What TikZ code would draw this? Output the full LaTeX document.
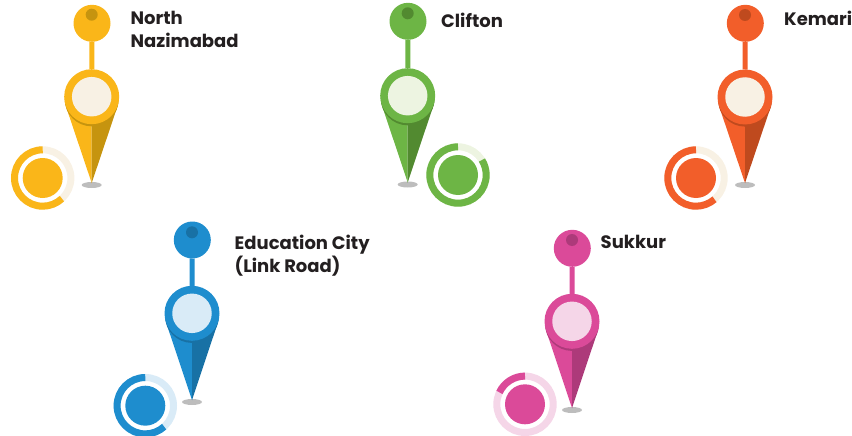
\documentclass[tikz,border=0pt]{standalone}
\usepackage{fontspec}
\setmainfont{Poppins}[BoldFont=* Bold]
\definecolor{yelM}{HTML}{FAB619}\definecolor{yelD}{HTML}{C6940F}\definecolor{yelL}{HTML}{F8F1E4}
\definecolor{grnM}{HTML}{6DB545}\definecolor{grnD}{HTML}{528A30}\definecolor{grnL}{HTML}{EDF4E1}
\definecolor{orgM}{HTML}{F25E2A}\definecolor{orgD}{HTML}{BF4A1E}\definecolor{orgL}{HTML}{F8F1E4}
\definecolor{bluM}{HTML}{1E8DCE}\definecolor{bluD}{HTML}{1871A5}\definecolor{bluL}{HTML}{D9EBF7}
\definecolor{pnkM}{HTML}{DB4A99}\definecolor{pnkD}{HTML}{AD3A7A}\definecolor{pnkL}{HTML}{F5D6E8}
\definecolor{txt}{HTML}{231F20}\definecolor{shad}{HTML}{BDBDBD}
\tikzset{
  disc/.style={circle,draw=none,inner sep=0pt,outer sep=0pt},
  pinlabel/.style={anchor=north west,inner sep=0pt,align=left,text=txt,font=\bfseries\fontsize{18pt}{23.5pt}\selectfont},
  stem/.style={line width=5pt},
}
% #1 id, #2 colour prefix, #3 pin x, #4 head y, #5 dot y, #6 big y, #7 tip y
\newcommand{\mappin}[7]{%
  \fill[shad] (#3,#7+2) ellipse [x radius=10pt,y radius=3pt];
  \fill[#2M] (#3-26,#6+9) -- (#3,#7) -- (#3,#6+9) -- cycle;
  \fill[#2D] (#3+26,#6+9) -- (#3,#7) -- (#3,#6+9) -- cycle;
  \fill[#2D] (#3,#6+2.6) circle [radius=27pt];
  \node[disc,fill=#2M,minimum size=37pt] (#1head) at (#3+.3,#4) {};
  \node[disc,fill=#2D,minimum size=12pt] (#1dot) at (#3,#5) {};
  \node[disc,fill=#2M,minimum size=55pt] (#1big) at (#3,#6) {};
  \node[disc,fill=#2L,minimum size=39.5pt] (#1eye) at (#3,#6) {};
  \draw[stem,#2M] (#1head) -- (#1big);
}
% #1 colour prefix, #2 ring x, #3 ring y, #4 end angle
\newcommand{\progress}[4]{%
  \draw[line width=7pt,#1L] (#2,#3) circle [radius=28.2pt];
  \draw[line width=7pt,#1M] ({#2},{#3-28.2}) arc [start angle=90,end angle=#4,radius=28.2pt];
  \fill[#1M] (#2,#3) circle [radius=20pt];
}
\begin{document}
\begin{tikzpicture}[x=1pt,y=-1pt]
\useasboundingbox (0,0) rectangle (852,436);
\mappin{north}{yel}{91.7}{23.3}{14.7}{96.7}{183}
\progress{yel}{42.7}{178}{313}
\node[pinlabel] (northt) at (130.5,10.5) {North\\Nazimabad};
\mappin{clif}{grn}{407.7}{21.3}{13.3}{95.7}{182.5}
\progress{grn}{458}{175}{392}
\node[pinlabel] (cliftt) at (441,13) {Clifton};
\mappin{kem}{org}{745}{23.3}{15}{97}{183}
\progress{org}{696}{178}{311}
\node[pinlabel] (kemt) at (784,11) {Kemari};
\mappin{edu}{blu}{192}{240}{232.3}{313.3}{400}
\progress{blu}{145.3}{405.7}{312}
\node[pinlabel] (edut) at (234.5,234.5) {Education City\\(Link Road)};
\mappin{suk}{pnk}{572}{248.3}{240}{321.3}{408}
\progress{pnk}{525}{404.3}{155}
\node[pinlabel] (sukt) at (600.5,235) {Sukkur};
\end{tikzpicture}
\end{document}
